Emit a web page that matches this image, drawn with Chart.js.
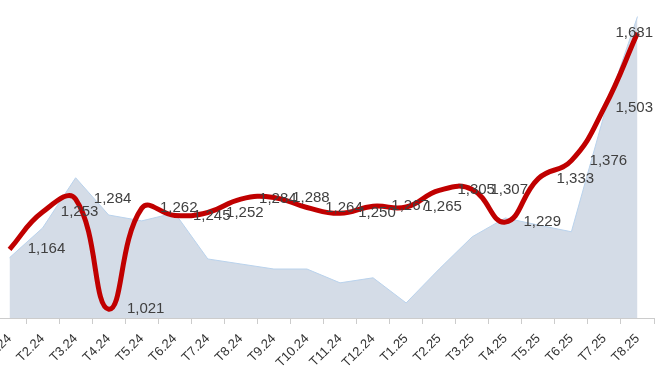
<!DOCTYPE html>
<html>
<head>
<meta charset="utf-8">
<script src="https://cdn.jsdelivr.net/npm/chart.js@4/dist/chart.umd.min.js"></script>
<style>
  html, body { margin: 0; padding: 0; background: #fff; overflow: hidden; }
  #wrap { position: absolute; left: -7px; top: 0; width: 669px; height: 369px; }
</style>
</head>
<body>
<div id="wrap"><canvas id="chart"></canvas></div>
<script>
// nhãn tháng
const months = ['T1.24', 'T2.24', 'T3.24', 'T4.24', 'T5.24', 'T6.24', 'T7.24', 'T8.24', 'T9.24', 'T10.24',
    'T11.24', 'T12.24', 'T1.25', 'T2.25', 'T3.25', 'T4.25', 'T5.25', 'T6.25', 'T7.25', 'T8.25'];

// đường đỏ (có nhãn số)
const mainValues = [1164, 1253, 1284, 1021, 1262, 1245, 1252, 1284, 1288, 1264,
    1250, 1267, 1265, 1305, 1307, 1229, 1333, 1376, 1503, 1681];

// vùng nền xanh xám
const areaValues = [1144, 1215, 1335, 1246, 1232, 1251, 1141, 1129, 1117, 1117,
    1084, 1096, 1036, 1117, 1194, 1239, 1222, 1206, 1488, 1720];

const yMin = 1000;
const yMax = 1750;

// vẽ nhãn giá trị, lệch sang phải một chút
const valueLabels = {
    id: 'valueLabels',
    afterDatasetsDraw(chart) {
        const ctx = chart.ctx;
        const meta = chart.getDatasetMeta(0);
        const right = chart.chartArea.right;
        ctx.save();
        ctx.font = '15px "Liberation Sans", Arial, sans-serif';
        ctx.fillStyle = '#404040';
        ctx.textAlign = 'center';
        ctx.textBaseline = 'middle';
        meta.data.forEach((pt, i) => {
            const text = mainValues[i].toLocaleString('en-US');
            const w = ctx.measureText(text).width;
            let x = pt.x + 37;
            if (x + w / 2 > right - 1) x = right - 1 - w / 2;
            ctx.fillText(text, x, pt.y);
        });
        ctx.restore();
    }
};

const ctx = document.getElementById('chart').getContext('2d');
const chart = new Chart(ctx, {
    type: 'line',
    data: {
        labels: months,
        datasets: [{
            data: mainValues,
            borderColor: '#c00000',
            borderWidth: 5,
            tension: 0.45,
            pointRadius: 0,
            fill: false,
            order: 0
        }, {
            data: areaValues,
            borderColor: '#b9d2ec',
            borderWidth: 1,
            backgroundColor: '#d4dce7',
            tension: 0,
            pointRadius: 0,
            fill: 'start',
            order: 1
        }]
    },
    options: {
        responsive: true,
        maintainAspectRatio: false,
        animation: false,
        layout: { padding: { top: 4, right: 8, left: 0, bottom: 0 } },
        plugins: {
            legend: { display: false },
            tooltip: { enabled: false }
        },
        scales: {
            x: {
                offset: true,
                grid: { display: true, drawOnChartArea: false, drawTicks: true, tickLength: 6, color: '#cccccc', offset: true },
                border: { display: true, color: '#cccccc' },
                ticks: {
                    maxRotation: 45,
                    minRotation: 45,
                    autoSkip: false,
                    color: '#333333',
                    padding: 7,
                    font: { family: '"Liberation Sans", Arial, sans-serif', size: 13 }
                },
                afterFit(scale) {
                    scale.height = 51;
                    scale.paddingLeft = 0;
                    scale.paddingRight = 0;
                }
            },
            y: {
                display: false,
                min: yMin,
                max: yMax
            }
        }
    },
    plugins: [valueLabels]
});
</script>
</body>
</html>
